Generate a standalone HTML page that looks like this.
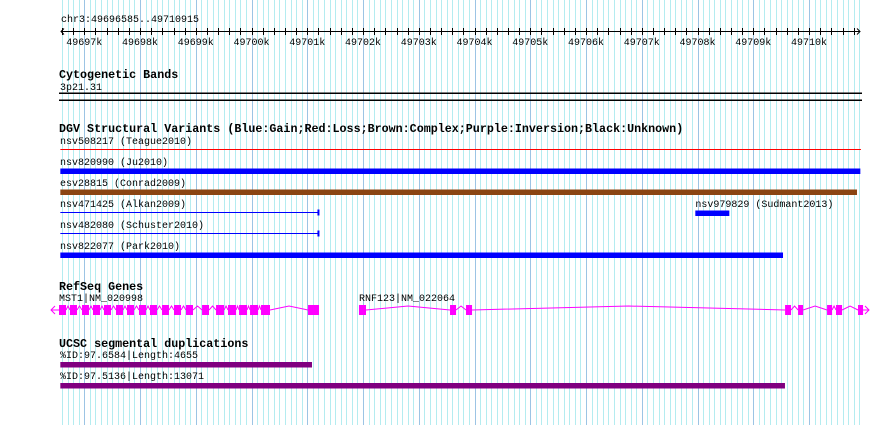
<!DOCTYPE html>
<html><head><meta charset="utf-8"><style>
html,body{margin:0;padding:0;background:#fff;}
svg{display:block;}
text{font-family:"Liberation Mono","DejaVu Sans Mono",monospace;font-size:10px;fill:#000;}
.t{font-weight:bold;font-size:11.7px;}
</style></head><body>
<svg id="chart" width="890" height="425" xmlns="http://www.w3.org/2000/svg">
<g id="grid"></g>
<g id="ruler">
<text x="61" y="22">chr3:49696585..49710915</text>
</g>
<text class="t" x="59" y="78">Cytogenetic Bands</text>
<text x="60" y="90">3p21.31</text>
<rect x="59" y="92.5" width="803" height="1.5" fill="#000"/>
<rect x="59" y="99.5" width="803" height="1.5" fill="#000"/>
<text class="t" x="59" y="132">DGV Structural Variants (Blue:Gain;Red:Loss;Brown:Complex;Purple:Inversion;Black:Unknown)</text>
<g id="dgv"></g>
<text class="t" x="59" y="290">RefSeq Genes</text>
<g id="genes"></g>
<text class="t" x="59" y="347">UCSC segmental duplications</text>
<g id="segdup"></g>
</svg>
<script>
const NS="http://www.w3.org/2000/svg";
const viewStart=49696585, viewEnd=49710915;
const tickLabels=["49697k","49698k","49699k","49700k","49701k","49702k","49703k","49704k","49705k","49706k","49707k","49708k","49709k","49710k"];
const tickValues=[49697000,49698000,49699000,49700000,49701000,49702000,49703000,49704000,49705000,49706000,49707000,49708000,49709000,49710000];
const dgvNames=["nsv508217 (Teague2010)","nsv820990 (Ju2010)","esv28815 (Conrad2009)","nsv471425 (Alkan2009)","nsv979829 (Sudmant2013)","nsv482080 (Schuster2010)","nsv822077 (Park2010)"];
const dgvStarts=[49696570,49696570,49696570,49696570,49707960,49696570,49696570];
const dgvEnds=[49710930,49710920,49710860,49701200,49708570,49701200,49709533];
const dgvColors=["#ff0000","#0000ff","#8b4513","#0000ff","#0000ff","#0000ff","#0000ff"];
const dgvKinds=["line","bar","bar","line","bar","line","bar"];
const dgvLabelY=[144,165,186,207,207,228,249];
const mstExons=[[49696546,49696672],[49696743,49696869],[49696959,49697084],[49697156,49697282],[49697353,49697479],[49697569,49697694],[49697766,49697892],[49697981,49698107],[49698178,49698304],[49698394,49698519],[49698609,49698735],[49698824,49698950],[49699112,49699237],[49699363,49699507],[49699578,49699722],[49699776,49699919],[49699973,49700117],[49700170,49700331],[49701013,49701210]];
const rnfExons=[[49701927,49702053],[49703560,49703668],[49703847,49703955],[49709570,49709677],[49709803,49709893],[49710323,49710413],[49710484,49710592],[49710879,49710950]];
const segNames=["%ID:97.6584|Length:4655","%ID:97.5136|Length:13071"];
const segStarts=[49696570,49696570];
const segEnds=[49701084,49709568];

const X=bp=>84.3+(bp-49697000)*0.05575;
function el(tag,attrs,parent){const e=document.createElementNS(NS,tag);for(const k in attrs)e.setAttribute(k,attrs[k]);parent.appendChild(e);return e;}
const grid=document.getElementById('grid');
for(let bp=49696600;bp<=viewEnd;bp+=100){
  const x=Math.round(X(bp))+0.5;const major=bp%1000===0;
  const l=el('line',{x1:x,x2:x,y1:0,y2:425,stroke:major?'#9cc4e4':'#b4ecf0','stroke-width':1},grid);
  
  
}
const ruler=document.getElementById('ruler');
const axl=el('line',{x1:61,x2:860,y1:31.5,y2:31.5,stroke:'#000'},ruler);


el('path',{d:'M64,28.5 L61,31.5 L64,34.5 M857,28.5 L860,31.5 L857,34.5',stroke:'#000',fill:'none'},ruler);
for(let bp=49696600;bp<=viewEnd;bp+=200){
  const x=Math.round(X(bp))+0.5;
  const t=el('line',{x1:x,x2:x,y1:28,y2:35,stroke:'#000'},ruler);
  
  
}
tickValues.forEach((v,i)=>{
  const t=el('text',{x:X(v),y:45,'text-anchor':'middle','font-size':'10.3px'},ruler);t.textContent=tickLabels[i];
  
  
});
const dgv=document.getElementById('dgv');
dgvNames.forEach((n,i)=>{
  const x1=Math.max(60,X(dgvStarts[i])),x2=Math.min(862,X(dgvEnds[i]));
  const lx=dgvStarts[i]>viewStart+1000?x1:60;
  const t=el('text',{x:lx,y:dgvLabelY[i]},dgv);t.textContent=n;
  
  
  let m;
  if(dgvKinds[i]==='bar'){
    m=el('rect',{x:x1,y:dgvLabelY[i]+3.5,width:x2-x1,height:5.5,fill:dgvColors[i]},dgv);
  }else{
    const y=dgvLabelY[i]+5.5;
    m=el('g',{},dgv);
    el('line',{x1:x1,x2:x2,y1:y,y2:y,stroke:dgvColors[i]},m);
    if(i!==0) el('rect',{x:x2-1,y:y-3,width:2,height:6,fill:dgvColors[i]},m);
  }
  
  
});
const genes=document.getElementById('genes');
function drawGene(name,exons,labelX,dir,endX){
  const t=el('text',{x:labelX,y:301},genes);t.textContent=name;
  
  
  const g=el('g',{},genes);
  
  
  const y=310;let d='';
  for(let k=0;k<exons.length-1;k++){
    const a=X(exons[k][1]),b=X(exons[k+1][0]);const mid=(a+b)/2;
    d+=`M${a},${y} L${mid},${y-4} L${b},${y} `;
  }
  el('path',{d:d,stroke:'#ff00ff',fill:'none'},g);
  exons.forEach(e=>{const a=X(e[0]),b=X(e[1]);el('rect',{x:Math.max(a,59),y:y-5,width:Math.max(b-Math.max(a,59),5),height:10,fill:'#ff00ff'},g);});
  if(dir<0){el('path',{d:`M59,${y} L51,${y} M55,${y-4} L51,${y} L55,${y+4}`,stroke:'#ff00ff',fill:'none'},g);}
  else{const a=X(exons[exons.length-1][1]);el('path',{d:`M${a},${y} L${endX},${y} M${endX-4},${y-4} L${endX},${y} L${endX-4},${y+4}`,stroke:'#ff00ff',fill:'none'},g);}
}
drawGene('MST1|NM_020998',mstExons,59,-1,0);
drawGene('RNF123|NM_022064',rnfExons,359,1,869);
const seg=document.getElementById('segdup');
segNames.forEach((n,i)=>{
  const y=358+i*21;
  const t=el('text',{x:60,y:y},seg);t.textContent=n;
  
  
  const x1=Math.max(60,X(segStarts[i])),x2=X(segEnds[i]);
  const r=el('rect',{x:x1,y:y+4,width:x2-x1,height:5.5,fill:'#800080'},seg);
  
  
});
</script>
</body></html>
